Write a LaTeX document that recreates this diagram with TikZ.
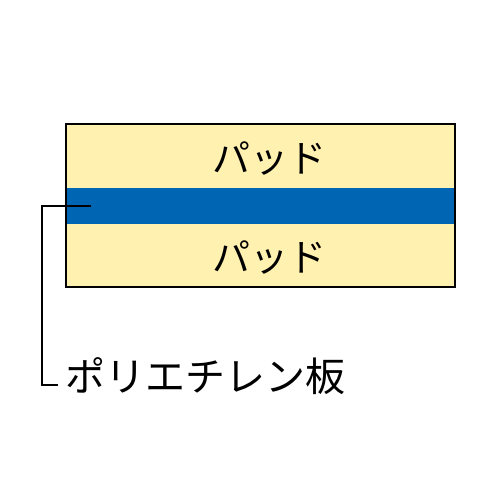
\documentclass[tikz,border=0pt]{standalone}
\usepackage{fontspec}
\newfontfamily\jp{Noto Sans CJK JP}
\usepackage{tikz}
\usetikzlibrary{positioning}
\definecolor{padyellow}{RGB}{255,241,176}
\definecolor{plateblue}{RGB}{0,102,180}
\begin{document}
\begin{tikzpicture}[x=1pt, y=-1pt,
                every node/.append style={font=\jp\fontsize{38}{38}\selectfont, inner sep=0pt},
                frame/.style={draw=black, line width=2.5pt},
                leader/.style={draw=black, line width=2.5pt}]
                \useasboundingbox (0,0) rectangle (500,500);
                % pads and plate
                \fill[padyellow] (66,124) rectangle (455,287);
                \fill[plateblue] (66,188) rectangle (455,224);
                \draw[frame] (66,124) rectangle (455,287);
                \node (padu) at (269,159) {パッド};
                \node (padd) at (269,258) {パッド};
                % leader to label
                \coordinate (tip) at (91,206);
                \node[anchor=west, font=\jp\fontsize{40}{40}\selectfont] (plate) at (65,376) {ポリエチレン板};
                \draw[leader] (tip) -- (42,206) |- (58,385);
\end{tikzpicture}
\end{document}
